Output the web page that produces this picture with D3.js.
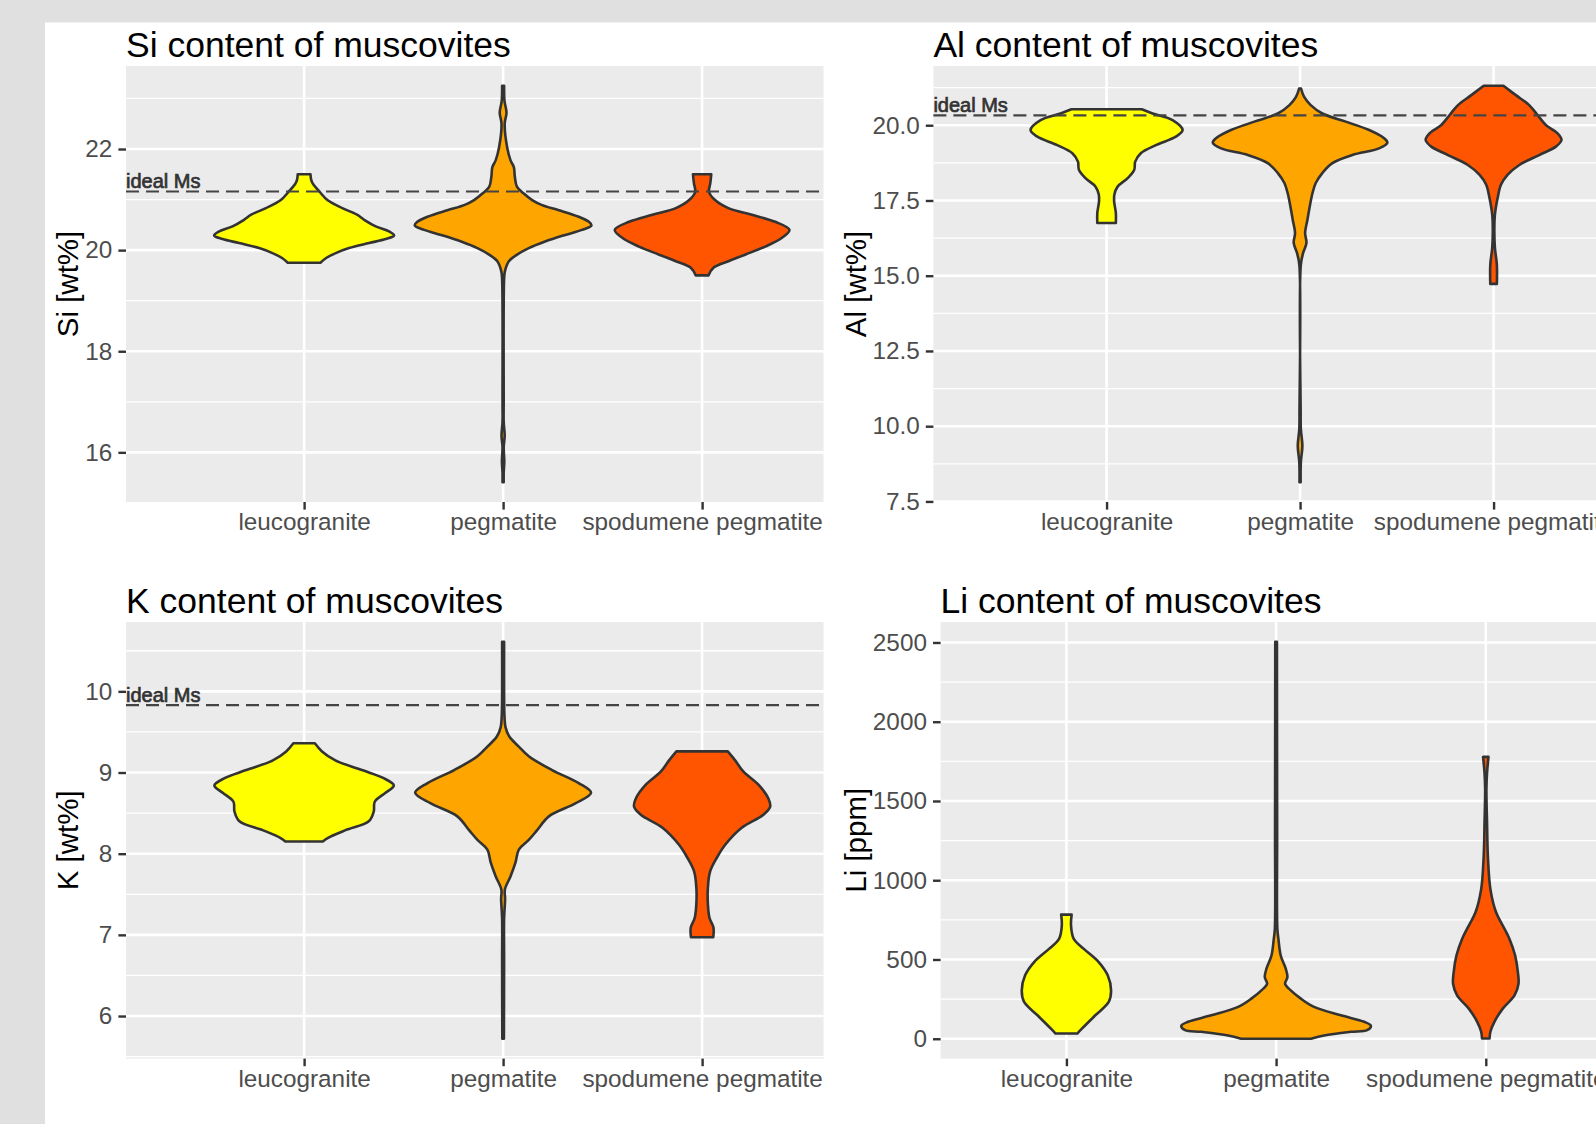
<!DOCTYPE html>
<html>
<head>
<meta charset="utf-8">
<script src="https://cdn.jsdelivr.net/npm/d3@7"></script>
<style>
  body { margin: 0; background: #e0e0e0; overflow: hidden; }
  svg { display: block; }
  text { font-family: "Liberation Sans", Arial, Helvetica, sans-serif; }
</style>
</head>
<body>
<svg id="chart" width="1596" height="1124"></svg>
<script>
// categories and fill colours
var categories = ["leucogranite", "pegmatite", "spodumene pegmatite"];
var fillColors = ["#ffff00", "#ffa500", "#ff5500"];

// violin outlines: [value, half width in category units]
var siLeuco = [[21.50, 0.032], [21.40, 0.035], [21.32, 0.043], [21.15, 0.079], [20.99, 0.117], [20.83, 0.192], [20.70, 0.266], [20.60, 0.302], [20.47, 0.360], [20.37, 0.427], [20.29, 0.452], [20.22, 0.410], [20.14, 0.327], [20.04, 0.226], [19.94, 0.159], [19.84, 0.109], [19.75, 0.082]];
var siPeg = [[23.25, 0.005], [22.95, 0.007], [22.72, 0.017], [22.50, 0.008], [22.04, 0.020], [21.78, 0.037], [21.64, 0.054], [21.45, 0.059], [21.25, 0.070], [21.12, 0.104], [20.99, 0.146], [20.89, 0.196], [20.79, 0.280], [20.66, 0.380], [20.56, 0.431], [20.49, 0.444], [20.40, 0.397], [20.30, 0.312], [20.17, 0.211], [20.04, 0.129], [19.91, 0.070], [19.78, 0.029], [19.58, 0.009], [19.42, 0.005], [17.00, 0.003], [16.60, 0.003], [16.33, 0.008], [16.10, 0.003], [15.82, 0.006], [15.60, 0.003], [15.41, 0.003]];
var siSpod = [[21.50, 0.046], [21.32, 0.041], [21.15, 0.035], [20.99, 0.065], [20.83, 0.132], [20.70, 0.250], [20.56, 0.367], [20.40, 0.439], [20.24, 0.400], [20.07, 0.317], [19.91, 0.216], [19.78, 0.132], [19.65, 0.057], [19.50, 0.032]];

var alLeuco = [[20.53, 0.182], [20.39, 0.238], [20.17, 0.341], [19.84, 0.393], [19.62, 0.358], [19.34, 0.255], [19.07, 0.177], [18.79, 0.148], [18.52, 0.143], [18.24, 0.109], [17.96, 0.057], [17.69, 0.040], [17.47, 0.039], [17.08, 0.048], [16.75, 0.048]];
var alPeg = [[21.22, 0.005], [20.94, 0.021], [20.67, 0.055], [20.39, 0.115], [20.12, 0.236], [19.84, 0.357], [19.57, 0.434], [19.42, 0.451], [19.23, 0.408], [19.01, 0.270], [18.74, 0.167], [18.41, 0.115], [18.08, 0.081], [17.74, 0.064], [17.30, 0.050], [16.86, 0.038], [16.42, 0.026], [16.09, 0.033], [15.76, 0.016], [15.37, 0.004], [10.50, 0.003], [9.91, 0.004], [9.35, 0.012], [8.80, 0.004], [8.14, 0.003]];
var alSpod = [[21.31, 0.051], [21.00, 0.115], [20.67, 0.184], [20.34, 0.227], [20.01, 0.270], [19.73, 0.331], [19.51, 0.351], [19.29, 0.322], [19.01, 0.236], [18.68, 0.133], [18.35, 0.072], [18.02, 0.038], [17.58, 0.021], [17.03, 0.007], [16.47, 0.004], [15.92, 0.007], [15.37, 0.017], [14.73, 0.017]];

var kLeuco = [[9.36, 0.054], [9.26, 0.090], [9.15, 0.157], [9.03, 0.291], [8.93, 0.400], [8.84, 0.451], [8.75, 0.409], [8.64, 0.355], [8.52, 0.350], [8.40, 0.325], [8.29, 0.208], [8.19, 0.116], [8.15, 0.094]];
var kPeg = [[10.61, 0.005], [9.93, 0.005], [9.69, 0.007], [9.56, 0.012], [9.44, 0.032], [9.32, 0.079], [9.20, 0.129], [9.03, 0.246], [8.87, 0.380], [8.75, 0.442], [8.62, 0.363], [8.46, 0.230], [8.29, 0.171], [8.17, 0.129], [8.05, 0.079], [7.89, 0.062], [7.72, 0.037], [7.56, 0.009], [7.44, 0.010], [7.20, 0.005], [6.66, 0.005], [5.72, 0.004]];
var kSpod = [[9.26, 0.129], [9.15, 0.166], [9.01, 0.208], [8.85, 0.283], [8.68, 0.333], [8.58, 0.342], [8.48, 0.308], [8.32, 0.199], [8.11, 0.116], [7.95, 0.074], [7.78, 0.040], [7.58, 0.029], [7.38, 0.029], [7.21, 0.037], [7.09, 0.057], [6.97, 0.056]];

var liLeuco = [[783, 0.025], [714, 0.022], [630, 0.035], [567, 0.083], [484, 0.154], [400, 0.197], [305, 0.213], [232, 0.202], [148, 0.138], [65, 0.075], [33, 0.052]];
var liPeg = [[2504, 0.004], [1321, 0.005], [693, 0.006], [630, 0.011], [525, 0.022], [442, 0.046], [389, 0.054], [347, 0.043], [305, 0.070], [253, 0.118], [201, 0.181], [148, 0.309], [107, 0.420], [82, 0.452], [54, 0.434], [44, 0.356], [21, 0.229], [0, 0.167]];
var liSpod = [[1778, 0.013], [1677, 0.006], [1572, 0.003], [1363, 0.006], [1153, 0.010], [944, 0.022], [798, 0.049], [714, 0.081], [630, 0.113], [525, 0.140], [421, 0.153], [347, 0.156], [274, 0.137], [190, 0.081], [107, 0.041], [44, 0.022], [2, 0.018]];

// tick values
var siTicks = [16, 18, 20, 22], siMinor = [15, 17, 19, 21, 23];
var alTicks = [7.5, 10, 12.5, 15, 17.5, 20], alMinor = [8.75, 11.25, 13.75, 16.25, 18.75, 21.25];
var kTicks = [6, 7, 8, 9, 10], kMinor = [5.5, 6.5, 7.5, 8.5, 9.5, 10.5];
var liTicks = [0, 500, 1000, 1500, 2000, 2500], liMinor = [250, 750, 1250, 1750, 2250];

// ideal muscovite reference values
var idealSi = 21.16, idealAl = 20.33, idealK = 9.83;

var svg = d3.select("#chart");

// white figure area
svg.append("rect")
  .attr("x", 45).attr("y", 22.4)
  .attr("width", 1596).attr("height", 1124)
  .attr("fill", "white");

var panels = [
  { title: "Si content of muscovites", ytitle: "Si [wt%]", violins: [siLeuco, siPeg, siSpod],
    ticks: siTicks, minor: siMinor, fmt: d3.format("d"), ideal: idealSi,
    left: 126, top: 66, width: 697.5, height: 436, xdom: [0.105, 3.61], ytitleX: 78 },
  { title: "Al content of muscovites", ytitle: "Al [wt%]", violins: [alLeuco, alPeg, alSpod],
    ticks: alTicks, minor: alMinor, fmt: d3.format(".1f"), ideal: idealAl,
    left: 933.4, top: 66, width: 678.2, height: 436, xdom: [0.105, 3.61], ytitleX: 866 },
  { title: "K content of muscovites", ytitle: "K [wt%]", violins: [kLeuco, kPeg, kSpod],
    ticks: kTicks, minor: kMinor, fmt: d3.format("d"), ideal: idealK,
    left: 126, top: 622, width: 697.5, height: 436.6, xdom: [0.105, 3.61], ytitleX: 78 },
  { title: "Li content of muscovites", ytitle: "Li [ppm]", violins: [liLeuco, liPeg, liSpod],
    ticks: liTicks, minor: liMinor, fmt: d3.format("d"), ideal: null,
    left: 940.6, top: 622, width: 671, height: 436.6, xdom: [0.4, 3.6], ytitleX: 866 }
];

panels.forEach(function(p) {
  // y domain: data extent plus 5% on each side, like ggplot
  var all = d3.merge(p.violins);
  var ext = d3.extent(all, function(d) { return d[0]; });
  var pad = (ext[1] - ext[0]) * 0.05;

  var x = d3.scaleLinear().domain(p.xdom).range([0, p.width]);
  var y = d3.scaleLinear().domain([ext[0] - pad, ext[1] + pad]).range([p.height, 0]);
  var unit = x(1) - x(0);

  var g = svg.append("g").attr("transform", "translate(" + p.left + "," + p.top + ")");

  g.append("rect")
    .attr("width", p.width).attr("height", p.height)
    .attr("fill", "#ebebeb");

  //grid lines
  g.selectAll(".minor")
    .data(p.minor.filter(function(v) { return v >= y.domain()[0] && v <= y.domain()[1]; }))
    .enter().append("line")
    .attr("x1", 0).attr("x2", p.width)
    .attr("y1", function(d) { return y(d); }).attr("y2", function(d) { return y(d); })
    .attr("stroke", "white").attr("stroke-width", 1.3);

  g.selectAll(".major")
    .data(p.ticks)
    .enter().append("line")
    .attr("x1", 0).attr("x2", p.width)
    .attr("y1", function(d) { return y(d); }).attr("y2", function(d) { return y(d); })
    .attr("stroke", "white").attr("stroke-width", 2.6);

  g.selectAll(".vgrid")
    .data([1, 2, 3])
    .enter().append("line")
    .attr("x1", function(d) { return x(d); }).attr("x2", function(d) { return x(d); })
    .attr("y1", 0).attr("y2", p.height)
    .attr("stroke", "white").attr("stroke-width", 2.6);

  //violins
  p.violins.forEach(function(v, i) {
    var cx = x(i + 1);
    var area = d3.area()
      .curve(d3.curveCatmullRom)
      .y(function(d) { return y(d[0]); })
      .x0(function(d) { return cx - d[1] * unit; })
      .x1(function(d) { return cx + d[1] * unit; });
    g.append("path")
      .datum(v)
      .attr("d", area)
      .attr("fill", fillColors[i])
      .attr("stroke", "#333333")
      .attr("stroke-width", 2.6)
      .attr("stroke-linejoin", "round");
  });

  //ideal Ms line
  if (p.ideal !== null) {
    g.append("line")
      .attr("x1", 0).attr("x2", p.width)
      .attr("y1", y(p.ideal)).attr("y2", y(p.ideal))
      .attr("stroke", "#444").attr("stroke-width", 2.2)
      .attr("stroke-dasharray", "13,7");
    g.append("text")
      .attr("x", 0).attr("y", y(p.ideal) - 3)
      .attr("font-size", "20px")
      .attr("fill", "#333").attr("stroke", "#333").attr("stroke-width", 0.7)
      .text("ideal Ms");
  }

  // axes
  var yAxis = g.append("g")
    .call(d3.axisLeft(y).tickValues(p.ticks).tickFormat(p.fmt).tickSize(7.6).tickPadding(6.1));
  var xAxis = g.append("g")
    .attr("transform", "translate(0," + p.height + ")")
    .call(d3.axisBottom(x).tickValues([1, 2, 3])
      .tickFormat(function(d) { return categories[d - 1]; })
      .tickSize(7.6).tickPadding(3.6));

  [yAxis, xAxis].forEach(function(a) {
    a.select(".domain").remove();
    a.selectAll(".tick line").attr("stroke", "#333333").attr("stroke-width", 2.4);
    a.selectAll(".tick text")
      .attr("fill", "#4d4d4d")
      .style("font-size", "24.3px")
      .style("font-family", "'Liberation Sans', Arial, sans-serif");
  });

  // titles
  g.append("text")
    .attr("x", 0).attr("y", -9)
    .attr("font-size", "35.5px")
    .attr("fill", "black")
    .text(p.title);

  svg.append("text")
    .attr("transform", "translate(" + p.ytitleX + "," + (p.top + p.height / 2) + ") rotate(-90)")
    .attr("text-anchor", "middle")
    .attr("font-size", "29.5px")
    .attr("fill", "black")
    .text(p.ytitle);
});
</script>
</body>
</html>
